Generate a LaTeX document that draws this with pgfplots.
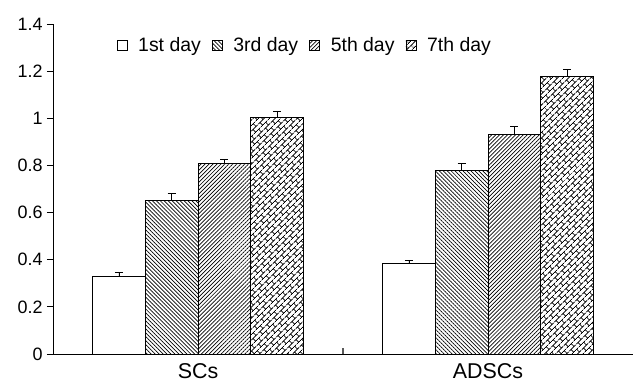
\documentclass[border=0pt]{standalone}
\usepackage{fontspec}
\setmainfont{Liberation Sans}
\usepackage{pgfplots}
\pgfplotsset{compat=1.18}
\usetikzlibrary{patterns,patterns.meta}
\tikzdeclarepattern{
  name=diagbricks,
  type=uncolored,
  bounding box={(0bp,0bp) and (10bp,8bp)},
  tile size={(10bp,8bp)},
  tile transformation={rotate=45},
  code={
    \draw[line width=0.85bp] (0bp,2bp)--(10bp,2bp) (0bp,6bp)--(10bp,6bp)
      (2.5bp,2bp)--(2.5bp,6bp) (7.5bp,6bp)--(7.5bp,8bp) (7.5bp,0bp)--(7.5bp,2bp);
  }
}
\begin{document}
\begin{tikzpicture}
\useasboundingbox (0,0) rectangle (633bp,385bp);
\begin{axis}[
  at={(53bp,31bp)}, anchor=south west,
  scale only axis, width=580bp, height=330bp,
  xmin=-0.5, xmax=1.5, ymin=0, ymax=1.4,
  axis x line=bottom, axis y line=left,
  axis line style={-, line width=0.8bp},
  ybar=0pt, bar width=52.7bp,
  ytick={0,0.2,0.4,0.6,0.8,1,1.2,1.4},
  xtick={0.5}, xticklabels={},
  extra x ticks={0,1}, extra x tick labels={SCs,ADSCs},
  extra x tick style={major tick length=0pt},
  tick align=outside,
  major tick length=6bp,
  tick style={line width=0.8bp, black},
  x tick style={draw=gray!70!black, line width=1.2bp, yshift=6bp},
  /pgf/number format/assume math mode=true,
  yticklabel style={font=\fontsize{18}{21}\selectfont, xshift=-1bp},
  xticklabel style={font=\fontsize{21.5}{24}\selectfont, yshift=-6bp},
  legend style={draw=none, fill=none, at={(0.434,0.936)}, anchor=center,
    legend columns=4, font=\fontsize{19.5}{22}\selectfont,
    column sep=9bp},
  legend cell align=left,
  legsq/.style={legend image code/.code={\draw[##1, line width=0.6bp] (0bp,-5bp) rectangle (10bp,5bp);}},
  error bars/y dir=plus, error bars/y explicit,
  error bars/error bar style={black, line width=0.8bp},
  error bars/error mark options={rotate=90, mark size=4bp, black, line width=0.8bp},
]
\addplot[draw=black, line width=0.8bp, fill=white, legsq]
  coordinates {(0,0.328) +- (0,0.020) (1,0.385) +- (0,0.011)};
\addlegendentry{1st day}
\addplot[draw=black, line width=0.8bp, fill=white, pattern={Lines[angle=-45,distance=2.8bp,line width=0.7bp]}, legsq]
  coordinates {(0,0.653) +- (0,0.030) (1,0.779) +- (0,0.028)};
\addlegendentry{3rd day}
\addplot[draw=black, line width=0.8bp, fill=white, pattern={Lines[angle=45,distance=2.8bp,line width=0.7bp]}, legsq]
  coordinates {(0,0.809) +- (0,0.017) (1,0.933) +- (0,0.031)};
\addlegendentry{5th day}
\addplot[draw=black, line width=0.8bp, fill=white, pattern=diagbricks, pattern color=black, legsq]
  coordinates {(0,1.003) +- (0,0.028) (1,1.179) +- (0,0.029)};
\addlegendentry{7th day}
\end{axis}
\end{tikzpicture}
\end{document}
